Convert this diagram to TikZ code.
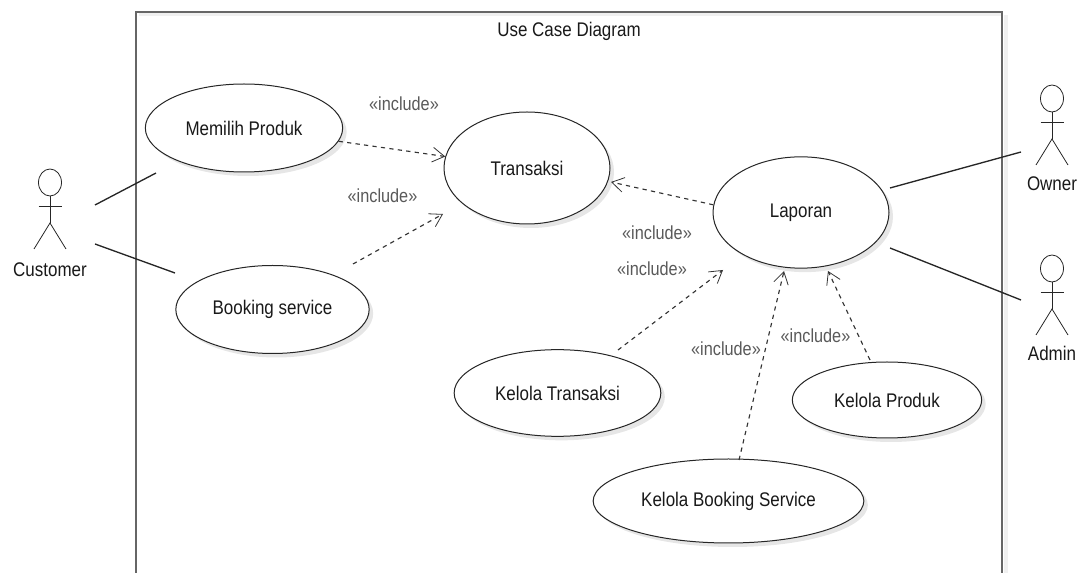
\documentclass[tikz,border=0pt]{standalone}
\usepackage{fontspec}
\setmainfont{Liberation Sans}[FakeStretch=0.86]
\usetikzlibrary{arrows.meta,shapes.geometric,shadows}
\tikzset{
  x=0.75pt,y=-0.75pt,
  every node/.style={font=\fontsize{14.8pt}{16pt}\selectfont,text=black!90},
  usecase/.style={ellipse,draw=black!85,line width=0.75pt,fill=white,inner sep=0pt,
    drop shadow={shadow xshift=3pt,shadow yshift=-3pt,fill=black!22,opacity=0.45}},
  assoc/.style={draw=black!85,line width=1pt},
  incl/.style={draw=black!80,line width=0.85pt,dash pattern=on 3.2pt off 3.2pt,
    -{Straight Barb[length=9pt,width=11pt,line width=0.6pt]}},
  stereo/.style={text=black!65,font=\fontsize{14.2pt}{16pt}\selectfont},
  actorline/.style={draw=black!85,line width=0.6pt},
  frameline/.style={draw=black!60,line width=1.3pt},
  frameshadow/.style={draw=black!6,line width=2.5pt},
  actorlabel/.style={text=black!90}
}
\newcommand{\stickman}[4]{% cx, head top, label y, name
  \draw[actorline] (#1,#2+13.5) ellipse [x radius=11.5,y radius=13.5];
  \draw[actorline] (#1,#2+27) -- (#1,#2+54);
  \draw[actorline] (#1-11.5,#2+37) -- (#1+11.5,#2+37);
  \draw[actorline] (#1-16,#2+80) -- (#1,#2+54) -- (#1+16,#2+80);
}
\begin{document}
\begin{tikzpicture}
\useasboundingbox (0,0) rectangle (1083,573);
% system boundary
\draw[frameshadow] (1006,15) -- (1006,573);
\draw[frameshadow] (139,14.5) -- (1002,14.5);
\draw[frameline] (136,573) -- (136,12) -- (1002,12) -- (1002,573);
\node (title) at (569,31) {Use Case Diagram};
% use cases
\node[usecase,minimum width=148pt,minimum height=66pt] (mem) at (244,128) {\raisebox{-0.5pt}{Memilih Produk}};
\node[usecase,minimum width=145pt,minimum height=66pt] (book) at (272.5,309.5) {\raisebox{-0.5pt}{Booking service}};
\node[usecase,minimum width=124.5pt,minimum height=84pt] (trx) at (527,168) {\raisebox{-0.5pt}{Transaksi}};
\node[usecase,minimum width=132pt,minimum height=83.5pt] (lap) at (801,212.5) {\raisebox{-0.5pt}{Laporan}};
\node[usecase,minimum width=155pt,minimum height=65pt] (ktrx) at (557.5,393) {\raisebox{-0.5pt}{Kelola Transaksi}};
\node[usecase,minimum width=142pt,minimum height=57pt] (kprod) at (887,400) {\raisebox{-0.5pt}{Kelola Produk}};
\node[usecase,minimum width=203pt,minimum height=63pt] (kbook) at (728.5,501) {\raisebox{-0.5pt}{Kelola Booking Service}};
% actors
\stickman{50}{169}{269}{Customer}
\stickman{1052}{85}{183}{Owner}
\stickman{1052}{255}{352}{Admin}
\node[actorlabel] (customer) at (50,270) {Customer};
\node[actorlabel] (owner) at (1052,184) {Owner};
\node[actorlabel] (admin) at (1052,353) {Admin};
% free connector ends
\coordinate (c1) at (95,205);
\coordinate (c1e) at (156,173);
\coordinate (c2) at (95,244);
\coordinate (c2e) at (175,273);
\coordinate (o1) at (1021,152);
\coordinate (o1e) at (890,188);
\coordinate (a1) at (1021,300);
\coordinate (a1e) at (890,248);
\coordinate (bs) at (353,264);
\coordinate (bt) at (443,214);
\coordinate (lt) at (611,182);
\coordinate (ks) at (618,350);
\coordinate (kt) at (723,270);
\coordinate (bbs) at (739,460);
\coordinate (bbt) at (784,271);
\coordinate (ps) at (870,360);
\coordinate (pt) at (828,271);
% associations
\draw[assoc] (c1) -- (c1e);
\draw[assoc] (c2) -- (c2e);
\draw[assoc] (o1e) -- (o1);
\draw[assoc] (a1e) -- (a1);
% includes
\draw[incl] (mem.-8.5) -- (trx.172);
\draw[incl] (bs) -- (bt);
\draw[incl] (lap.175) -- (lt);
\draw[incl] (ks) -- (kt);
\draw[incl] (bbs) -- (bbt);
\draw[incl] (ps) -- (pt);
% labels
\node[stereo] (s1) at (404,104) {«include»};
\node[stereo] (s2) at (382.5,196) {«include»};
\node[stereo] (s3) at (657,233) {«include»};
\node[stereo] (s4) at (652,269) {«include»};
\node[stereo] (s5) at (726,348.5) {«include»};
\node[stereo] (s6) at (815.5,336) {«include»};
\end{tikzpicture}
\end{document}
